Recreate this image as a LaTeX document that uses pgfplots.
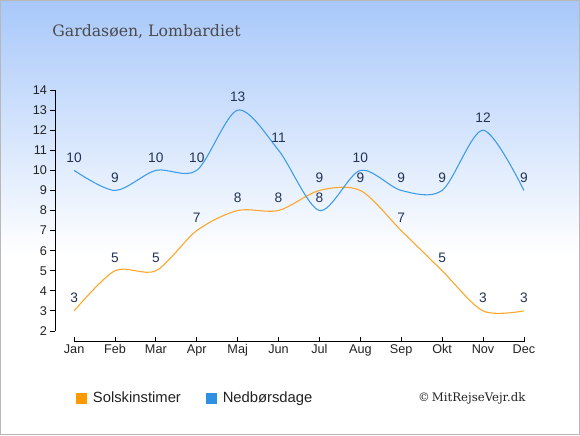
\documentclass[border=0pt]{standalone}
\usepackage{fontspec}
\setmainfont{Liberation Sans}
\newfontfamily\serif{DejaVu Serif}
\usepackage{pgfplots}
\pgfplotsset{compat=1.18}
\definecolor{bgtop}{HTML}{A8C8FA}
\definecolor{sunline}{HTML}{FFA526}
\definecolor{rainline}{HTML}{3C9BEA}
\definecolor{sunsq}{HTML}{FF9900}
\definecolor{rainsq}{HTML}{2F90E2}
\definecolor{lbl}{HTML}{223355}
\definecolor{titlegray}{HTML}{4A4A4A}
\definecolor{tickgray}{HTML}{222222}
\begin{document}
\begin{tikzpicture}
\begin{scope}[x=0.75pt,y=0.75pt]
\fill[white] (0,0) rectangle (580,435);
\shade[top color=bgtop, bottom color=white] (0,180) rectangle (580,435);
\draw[black!28, line width=0.75pt] (0.4,0.4) rectangle (579.6,434.6);
\node[anchor=west, font=\serif\fontsize{11.8}{13}\selectfont, text=titlegray, inner sep=0] at (52,403) {Gardasøen, Lombardiet};
\node[anchor=west, font=\serif\fontsize{8.8}{11}\selectfont, text=tickgray, inner sep=0] at (418,37) {©\,MitRejseVejr.dk};
\end{scope}
\begin{axis}[
  at={(41.25pt,70.5pt)}, anchor=south west,
  scale only axis, width=351.75pt, height=188.25pt,
  xmin=-0.465, xmax=11, ymin=1.5, ymax=14,
  axis line style={draw=none},
  clip=false,
  xtick={0,...,11},
  xticklabels={Jan,Feb,Mar,Apr,Maj,Jun,Jul,Aug,Sep,Okt,Nov,Dec},
  ytick={2,...,14},
  xtick pos=bottom, ytick pos=left,
  x tick style={black, line width=0.6pt, yshift=-0.4pt},
  y tick style={black, line width=0.6pt},
  major tick length=3.5pt,
  xtick align=inside, ytick align=outside,
  tick label style={font=\fontsize{9.5}{11}\selectfont, text=tickgray},
  xticklabel style={yshift=1pt},
  yticklabel style={xshift=1pt},
  /pgf/number format/assume math mode=true,
  every node near coord/.append style={font=\fontsize{10.3}{12}\selectfont, text=lbl, anchor=center, yshift=9.75pt},
  legend style={draw=none, fill=none, at={(0.035,-0.227)}, anchor=west, legend columns=2,
    font=\fontsize{11.1}{12}\selectfont, text=tickgray,
    /tikz/every odd column/.append style={column sep=3pt},
    /tikz/every even column/.append style={column sep=16.5pt}},
]
\draw[black, line width=0.6pt] (axis cs:-0.465,2) -- (axis cs:-0.465,14);
\draw[black, line width=0.6pt] (axis cs:0,1.5) -- (axis cs:11,1.5);
\addplot[sunline, line width=0.8pt, smooth, tension=0.5, nodes near coords, forget plot] coordinates {
(0,3) (1,5) (2,5) (3,7) (4,8) (5,8) (6,9) (7,9) (8,7) (9,5) (10,3) (11,3)};
\addplot[rainline, line width=0.8pt, smooth, tension=0.5, nodes near coords, forget plot] coordinates {
(0,10) (1,9) (2,10) (3,10) (4,13) (5,11) (6,8) (7,10) (8,9) (9,9) (10,12) (11,9)};
\addlegendimage{legend image code/.code={\fill[sunsq] (0pt,-3.75pt) rectangle (7.5pt,3.75pt);}}
\addlegendentry{Solskinstimer}
\addlegendimage{legend image code/.code={\fill[rainsq] (0pt,-3.75pt) rectangle (7.5pt,3.75pt);}}
\addlegendentry{Nedbørsdage}
\end{axis}
\end{tikzpicture}
\end{document}
